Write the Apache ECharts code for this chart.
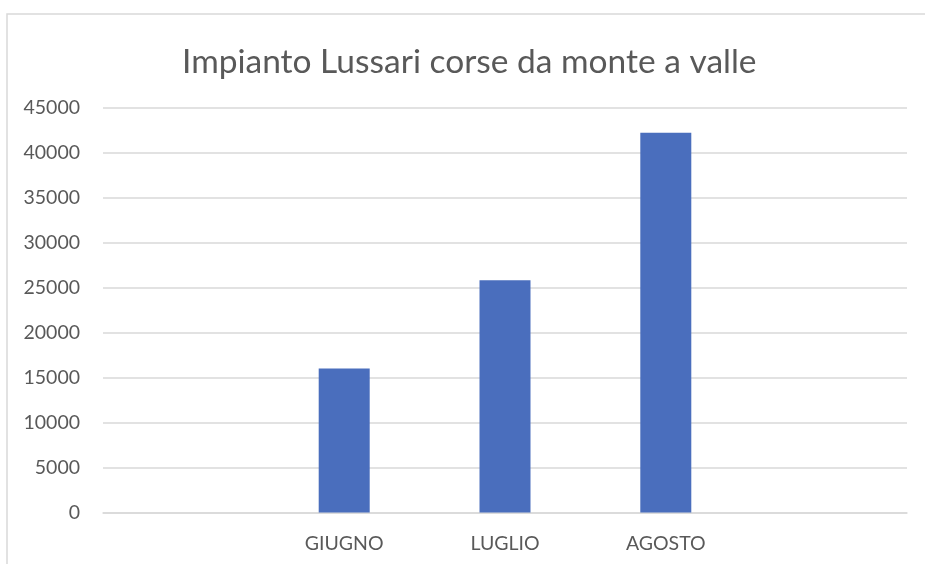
<!DOCTYPE html>
<html>
<head>
<meta charset="utf-8">
<script src="https://cdn.jsdelivr.net/npm/echarts@6/dist/echarts.min.js"></script>
<style>
  html, body { margin: 0; padding: 0; background: #fff; }
  #main { width: 925px; height: 564px; }
</style>
</head>
<body>
<div id="main"></div>
<script>
// categories (first and last slot are empty in the original sheet)
var mesi = ['', 'GIUGNO', 'LUGLIO', 'AGOSTO', ''];
var corse = [null, 16000, 25800, 42200, null];

var myChart = echarts.init(document.getElementById('main'));

var option = {
    backgroundColor: '#fff',
    textStyle: { fontFamily: 'Lato' },
    title: {
        text: 'Impianto Lussari corse da monte a valle',
        left: 177,
        top: 40,
        textStyle: { fontFamily: 'Lato', fontSize: 33.5, fontWeight: 'normal', color: '#595959' }
    },
    graphic: [{
        type: 'rect',
        shape: { x: 7, y: 14, width: 1000, height: 700 },
        style: { fill: 'none', stroke: '#d9d9d9', lineWidth: 1.5 },
        silent: true
    }],
    grid: { left: 103, right: 18, top: 107.5, bottom: 51.5 },
    xAxis: {
        type: 'category',
        data: mesi,
        axisLine: { lineStyle: { color: '#d9d9d9', width: 1.5 } },
        axisTick: { show: false },
        axisLabel: { fontFamily: 'Lato', fontSize: 19.5, color: '#595959', margin: 21 }
    },
    yAxis: {
        type: 'value',
        min: 0,
        max: 45000,
        interval: 5000,
        axisLine: { show: false },
        axisTick: { show: false },
        splitLine: { lineStyle: { color: '#d9d9d9', width: 1.5 } },
        axisLabel: {
            fontFamily: 'Lato', fontSize: 19.5, color: '#595959', margin: 23,
            formatter: function (v) { return String(v); }
        }
    },
    series: [{
        name: 'corse',
        type: 'bar',
        data: corse,
        barWidth: 51,
        itemStyle: { color: '#4a6ebd' }
    }]
};
myChart.setOption(option);
</script>
</body>
</html>
